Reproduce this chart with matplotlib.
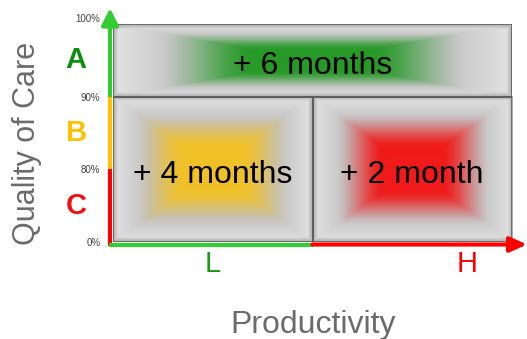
import numpy as np
import matplotlib
matplotlib.use("Agg")
import matplotlib.pyplot as plt
from matplotlib.colors import to_rgb
from matplotlib.patches import Rectangle

plt.rcParams['font.family'] = ['Liberation Sans', 'DejaVu Sans']

# quality axis (bottom -> top), equally spaced tiers
tier_ticks = [0, 1, 2, 3]
tier_labels = ['0%', '80%', '90%', '100%']
grades = ['C', 'B', 'A']
grade_colors = ['#ee1111', '#ffc000', '#0e8e0e']
axis_colors = ['#ff0000', '#ffc000', '#33cc33']  # C, B, A segments

# productivity axis
prod_labels = ['L', 'H']
prod_pos = [0.5, 1.775]
prod_colors = ['#1a9a1a', '#ff0000']
prod_axis_colors = ['#33cc33', '#ff0000']

# cells of the matrix
cell_x0 = [0, 0, 1]
cell_x1 = [2, 1, 2]
cell_y0 = [2, 0, 0]
cell_y1 = [3, 2, 2]
cell_text = ['+ 6 months', '+ 4 months', '+ 2 month']
cell_color = ['#279a27', '#f0c028', '#f01a1a']


def bevel(w, h, color):
    # grey bevelled tile with a coloured glow in the middle
    X, Y = np.meshgrid(np.arange(w) + 0.5, np.arange(h) + 0.5)
    ex = np.minimum(X, w - X)
    ey = np.minimum(Y, h - Y)
    e = np.minimum(ex, ey)
    d = np.minimum(ex / (w / 2), ey / (h / 2))
    edge = np.interp(e, [0, 2, 7], [0.66, 0.74, 0.95])
    inner = np.interp(d, [0, 0.35], [0.89, 0.76])
    grey = np.minimum(edge, inner)
    t = np.clip((d - 0.22) / 0.5, 0, 1)
    wgt = t * t * (3 - 2 * t)
    c = np.array(to_rgb(color))
    img = (1 - wgt)[..., None] * grey[..., None] + wgt[..., None] * c
    return np.clip(img, 0, 1)


fig = plt.figure(figsize=(5.27, 3.39), dpi=100)
ax = fig.add_axes([113 / 527, 1 - 242 / 339, 399 / 527, 218 / 339])
ppx = 399 / 2
ppy = 218 / 3

for i in range(len(cell_text)):
    x0, x1, y0, y1 = cell_x0[i], cell_x1[i], cell_y0[i], cell_y1[i]
    w = int(round((x1 - x0) * ppx))
    h = int(round((y1 - y0) * ppy))
    ax.imshow(bevel(w, h, cell_color[i]), extent=(x0, x1, y0, y1),
              origin='upper', aspect='auto', interpolation='bilinear', zorder=1)
    ax.add_patch(Rectangle((x0, y0), x1 - x0, y1 - y0, fill=False,
                           ec='#5a5a5a', lw=1.1, zorder=2))
    ax.annotate(cell_text[i], xy=((x0 + x1) / 2, (y0 + y1) / 2), xytext=(0, -4),
                textcoords='offset points', ha='center', va='center',
                fontsize=23, color='black', zorder=3)

ax.set_xlim(0, 2)
ax.set_ylim(0, 3)
for s in ax.spines.values():
    s.set_visible(False)
ax.set_xticks([])
ax.set_yticks(tier_ticks, tier_labels)
ax.tick_params(axis='y', length=0, pad=9, labelsize=7, labelcolor='#404040')
ax.get_yticklabels()[-1].set_va('bottom')

# coloured quality axis with arrow
vx = -3 / ppx
for i in range(3):
    ax.plot([vx, vx], [tier_ticks[i] - (3.5 / ppy if i == 0 else 0), tier_ticks[i + 1]],
            color=axis_colors[i], lw=3, solid_capstyle='butt', clip_on=False, zorder=4)
ax.annotate('', xy=(vx, 3 + 16 / ppy), xytext=(vx, 2.9),
            arrowprops=dict(arrowstyle='-|>,head_width=0.5,head_length=1.0',
                            color=axis_colors[2], lw=3, shrinkA=0, shrinkB=0),
            annotation_clip=False, zorder=4)

# coloured productivity axis with arrow
hy = -2.5 / ppy
ax.plot([vx - 1.5 / ppx, 1], [hy, hy], color=prod_axis_colors[0], lw=3,
        solid_capstyle='butt', clip_on=False, zorder=4)
ax.annotate('', xy=(2 + 15 / ppx, hy), xytext=(1, hy),
            arrowprops=dict(arrowstyle='-|>,head_width=0.45,head_length=1.0',
                            color=prod_axis_colors[1], lw=3, shrinkA=0, shrinkB=0),
            annotation_clip=False, zorder=4)

for i, g in enumerate(grades):
    ax.text(-0.185, (tier_ticks[i] + tier_ticks[i + 1]) / 2, g, ha='center', va='center',
            fontsize=21, fontweight='bold', color=grade_colors[i])

for i, p in enumerate(prod_labels):
    ax.text(prod_pos[i], -0.3, p, ha='center', va='center', fontsize=21,
            color=prod_colors[i])

fig.text(27 / 527, 1 - 143 / 339, 'Quality of Care', rotation=90, ha='center',
         va='center', fontsize=22, color='#6b6b6b')
fig.text(313 / 527, 1 - 325 / 339, 'Productivity', ha='center', va='center',
         fontsize=23, color='#6b6b6b')

fig.savefig('out.png', dpi=100)
